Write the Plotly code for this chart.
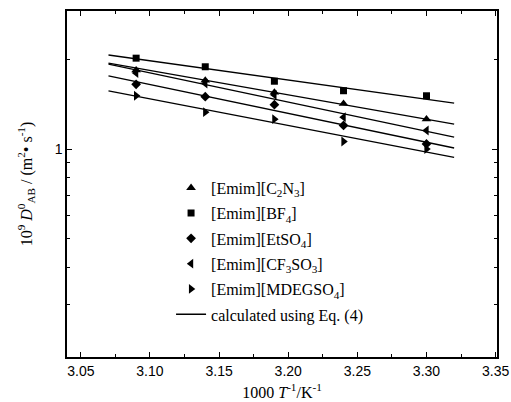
import math
import plotly.graph_objects as go

# inverse temperature, 1000/T (K^-1)
invT = [3.09, 3.14, 3.19, 3.24, 3.30]

# experimental 10^9 D0_AB (m^2 s^-1)
d_c2n3 = [1.84, 1.70, 1.55, 1.42, 1.26]
d_bf4 = [2.02, 1.89, 1.69, 1.57, 1.51]
d_etso4 = [1.65, 1.50, 1.41, 1.20, 1.04]
d_cf3so3 = [1.80, 1.66, 1.52, 1.28, 1.154]
d_mdegso4 = [1.51, 1.33, 1.26, 1.06, 1.00]

# calculated lines (Eq. 4), endpoints
invT_calc = [3.07, 3.32]
c_c2n3 = [1.944, 1.213]
c_bf4 = [2.07, 1.427]
c_etso4 = [1.762, 1.008]
c_cf3so3 = [1.928, 1.097]
c_mdegso4 = [1.569, 0.937]

names = ["[Emim][C<sub>2</sub>N<sub>3</sub>]", "[Emim][BF<sub>4</sub>]",
         "[Emim][EtSO<sub>4</sub>]", "[Emim][CF<sub>3</sub>SO<sub>3</sub>]",
         "[Emim][MDEGSO<sub>4</sub>]"]
exp_series = [d_c2n3, d_bf4, d_etso4, d_cf3so3, d_mdegso4]
calc_series = [c_c2n3, c_bf4, c_etso4, c_cf3so3, c_mdegso4]
symbols = ["triangle-up", "square", "diamond", "triangle-left", "triangle-right"]
sizes = [8.5, 7, 7.5, 8.5, 8.5]

fig = go.Figure()
for i, (nm, ys, sym, sz) in enumerate(zip(names, exp_series, symbols, sizes)):
    fig.add_trace(go.Scatter(x=invT, y=ys, mode="markers", name=nm,
                             legendgroup=f"g{i}",
                             marker=dict(symbol=sym, size=sz, color="black")))
for j, ys in enumerate(calc_series):
    fig.add_trace(go.Scatter(x=invT_calc, y=ys, mode="lines",
                             name="calculated using Eq. (4)",
                             legendgroup="calc", showlegend=(j == 0),
                             line=dict(color="black", width=1.3)))

axis_common = dict(showline=True, linecolor="black", linewidth=1.5, mirror="ticks",
                   ticks="inside", tickcolor="black", tickwidth=1.2, showgrid=False,
                   zeroline=False, automargin=False)

fig.update_xaxes(**axis_common, range=[3.04, 3.351],
                 tickvals=[3.05, 3.10, 3.15, 3.20, 3.25, 3.30, 3.35],
                 ticktext=["3.05", "3.10", "3.15", "3.20", "3.25", "3.30", "3.35"],
                 ticklen=5,
                 tickfont=dict(family="Liberation Sans", size=14, color="black"),
                 minor=dict(tickvals=[3.075, 3.125, 3.175, 3.225, 3.275, 3.325],
                            ticks="inside", ticklen=3, tickcolor="black", tickwidth=1.2),
                 title=dict(text="1000 <i>T</i><sup>-1</sup>/K<sup>-1</sup>",
                            font=dict(family="Liberation Serif", size=16, color="black"),
                            standoff=9))

fig.update_yaxes(**axis_common, type="log",
                 range=[math.log10(0.2), math.log10(2.91)],
                 tickvals=[1], ticktext=["1"], ticklen=5,
                 tickfont=dict(family="Liberation Sans", size=14, color="black"),
                 minor=dict(tickvals=[0.2, 0.3, 0.4, 0.5, 0.6, 0.7, 0.8, 0.9, 2],
                            ticks="inside", ticklen=3, tickcolor="black", tickwidth=1.2),
                 title=dict(text="10<sup>9</sup> <i>D</i><sup>0</sup><sub>AB</sub> / (m<sup>2</sup>• s<sup>-1</sup>)",
                            font=dict(family="Liberation Serif", size=16, color="black"),
                            standoff=18))

fig.update_layout(
    width=511, height=402,
    margin=dict(l=67, r=14, t=11, b=45),
    paper_bgcolor="white", plot_bgcolor="white",
    showlegend=True,
    legend=dict(x=0.242, y=0.538, xanchor="left", yanchor="top",
                bgcolor="rgba(0,0,0,0)", borderwidth=0,
                font=dict(family="Liberation Serif", size=16, color="black"),
                traceorder="grouped", tracegroupgap=1.5),
)

# remove the default page margin so the figure fills the window exactly
fig.write_html("out.html", config={"displayModeBar": False},
               post_script="document.body.style.margin='0';")
